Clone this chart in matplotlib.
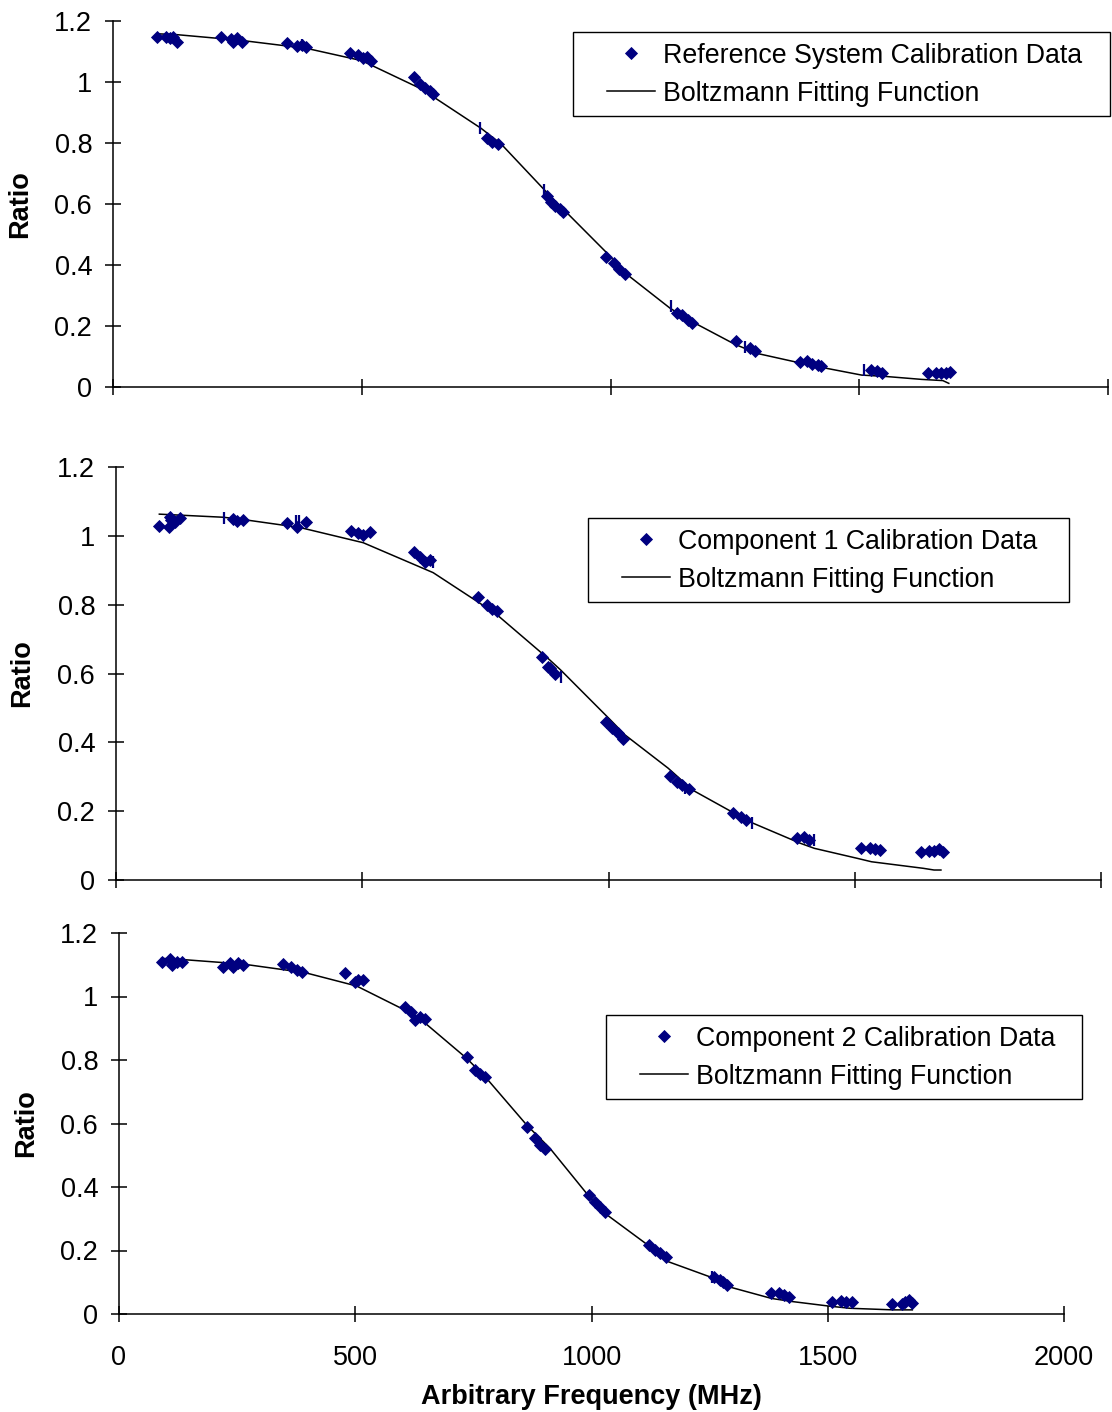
import numpy as np
import matplotlib.pyplot as plt
from matplotlib.patches import Rectangle

plt.rcParams['font.family'] = ['Liberation Sans', 'DejaVu Sans']

# Reference system calibration data (MHz, ratio)
ref_x = [89, 106, 115, 120, 129,
         218, 238, 242, 249, 259,
         350, 369, 379, 388,
         476, 493, 503, 510, 518,
         605, 617, 627, 637, 644,
         751, 761, 774,
         872, 880, 888, 898, 905,
         990, 1008, 1018, 1029,
         1133, 1144, 1155, 1164,
         1252, 1280, 1291,
         1381, 1395, 1406, 1417, 1424,
         1524, 1535, 1546,
         1639, 1654, 1665, 1675, 1682]
ref_y = [1.149, 1.147, 1.143, 1.149, 1.130,
         1.146, 1.140, 1.130, 1.143, 1.132,
         1.127, 1.119, 1.122, 1.116,
         1.094, 1.087, 1.078, 1.083, 1.070,
         1.015, 0.995, 0.979, 0.972, 0.961,
         0.818, 0.804, 0.797,
         0.625, 0.605, 0.595, 0.585, 0.575,
         0.427, 0.405, 0.386, 0.370,
         0.242, 0.236, 0.220, 0.211,
         0.152, 0.127, 0.119,
         0.083, 0.086, 0.077, 0.072, 0.070,
         0.055, 0.053, 0.047,
         0.047, 0.047, 0.047, 0.047, 0.048]
ref_tick_x = [379, 738, 866, 1122, 1270, 1510]
ref_tick_y = [1.120, 0.850, 0.645, 0.266, 0.132, 0.056]
ref_fit_x = [90, 130, 260, 390, 500, 620, 740, 780, 880, 910, 990, 1030,
             1120, 1170, 1250, 1295, 1400, 1505, 1550, 1625, 1668, 1680]
ref_fit_y = [1.158, 1.155, 1.136, 1.110, 1.070, 0.977, 0.848, 0.797, 0.624,
             0.575, 0.444, 0.373, 0.258, 0.209, 0.140, 0.110, 0.072, 0.039,
             0.035, 0.025, 0.021, 0.012]

# Component 1 calibration data
c1_x = [88, 108, 110, 111, 120, 129,
        237, 245, 257,
        347, 367, 386,
        477, 492, 502, 516,
        605, 617, 627, 638,
        735, 754, 763, 773,
        864, 878, 881, 892,
        994, 1008, 1019, 1030,
        1124, 1139, 1149, 1164,
        1253, 1269, 1280,
        1382, 1397, 1407,
        1512, 1530, 1541, 1552,
        1635, 1650, 1661, 1672, 1679]
c1_y = [1.028, 1.026, 1.055, 1.046, 1.041, 1.051,
        1.049, 1.044, 1.046,
        1.038, 1.027, 1.041,
        1.014, 1.007, 1.002, 1.010,
        0.954, 0.939, 0.925, 0.930,
        0.823, 0.799, 0.786, 0.782,
        0.649, 0.620, 0.615, 0.600,
        0.460, 0.441, 0.426, 0.409,
        0.302, 0.286, 0.276, 0.264,
        0.194, 0.184, 0.174,
        0.121, 0.126, 0.116,
        0.092, 0.094, 0.089, 0.087,
        0.082, 0.085, 0.085, 0.089, 0.082]
c1_tick_x = [219, 366, 372, 644, 903, 1155, 1291, 1418]
c1_tick_y = [1.051, 1.044, 1.044, 0.924, 0.591, 0.267, 0.165, 0.116]
c1_fit_x = [88, 218, 265, 374, 502, 644, 770, 881, 903, 1004, 1034, 1121,
            1171, 1287, 1389, 1418, 1505, 1534, 1639, 1661, 1675]
c1_fit_y = [1.063, 1.054, 1.046, 1.024, 0.980, 0.893, 0.775, 0.639, 0.610,
            0.465, 0.421, 0.325, 0.261, 0.169, 0.107, 0.092, 0.063, 0.053,
            0.034, 0.029, 0.029]

# Component 2 calibration data
c2_x = [90, 108, 112, 122, 133,
        221, 235, 242, 252, 262,
        348, 365, 376, 387,
        478, 499, 506, 517,
        605, 619, 626, 637, 648,
        736, 753, 764, 775,
        863, 880, 891, 902,
        994, 1007, 1018, 1029,
        1122, 1135, 1146, 1158,
        1260, 1271, 1279, 1286,
        1379, 1396, 1407, 1419,
        1509, 1528, 1539, 1551,
        1636, 1657, 1664, 1672, 1679]
c2_y = [1.110, 1.117, 1.099, 1.110, 1.110,
        1.094, 1.105, 1.094, 1.105, 1.099,
        1.101, 1.094, 1.084, 1.078,
        1.073, 1.047, 1.052, 1.052,
        0.968, 0.952, 0.926, 0.936, 0.928,
        0.808, 0.769, 0.756, 0.747,
        0.590, 0.553, 0.532, 0.519,
        0.375, 0.354, 0.338, 0.320,
        0.217, 0.202, 0.191, 0.179,
        0.118, 0.107, 0.102, 0.091,
        0.065, 0.067, 0.060, 0.055,
        0.039, 0.041, 0.039, 0.037,
        0.031, 0.031, 0.039, 0.044, 0.034]
c2_tick_x = [1256]
c2_tick_y = [0.118]
c2_fit_x = [90, 129, 263, 394, 503, 616, 648, 736, 778, 863, 912, 995, 1033,
            1124, 1162, 1260, 1290, 1381, 1426, 1502, 1547, 1638, 1679]
c2_fit_y = [1.120, 1.117, 1.102, 1.075, 1.033, 0.949, 0.916, 0.805, 0.742,
            0.595, 0.522, 0.370, 0.312, 0.212, 0.165, 0.112, 0.086, 0.049,
            0.039, 0.025, 0.018, 0.013, 0.013]

panels = [
    ('Reference System Calibration Data', ref_x, ref_y, ref_tick_x, ref_tick_y, ref_fit_x, ref_fit_y),
    ('Component 1 Calibration Data', c1_x, c1_y, c1_tick_x, c1_tick_y, c1_fit_x, c1_fit_y),
    ('Component 2 Calibration Data', c2_x, c2_y, c2_tick_x, c2_tick_y, c2_fit_x, c2_fit_y),
]

x_ticks = [0, 500, 1000, 1500, 2000]
y_ticks = [0, 0.2, 0.4, 0.6, 0.8, 1.0, 1.2]
y_ticklabels = ['0', '0.2', '0.4', '0.6', '0.8', '1', '1.2']

W, H = 1112, 1412
# axes boxes in pixels: left, top, right, bottom
boxes = [(113, 21, 1108, 387), (116, 467, 1101, 880), (119, 933, 1064, 1314)]
# legend frames in pixels: left, top, right, bottom
leg_boxes = [(573, 32, 1110, 116), (588, 518, 1069, 602), (606, 1015, 1082, 1099)]
ylabel_x = [20, 22, 26]

navy = '#000080'
fs = 19.5
leg_fs = 19.3

fig = plt.figure(figsize=(W / 100, H / 100), dpi=100)

for i, (name, dx, dy, tx, ty, fx, fy) in enumerate(panels):
    l, t, r, b = boxes[i]
    ax = fig.add_axes([l / W, 1 - b / H, (r - l) / W, (b - t) / H])
    ax.plot(fx, fy, color='black', lw=1.1, label='Boltzmann Fitting Function', zorder=2)
    ax.plot(dx, dy, ls='none', marker='D', ms=6.3, mfc=navy, mec=navy, mew=0.6,
            label=name, zorder=3)
    ax.plot(tx, ty, ls='none', marker='|', ms=8, mec=navy, mew=1.6, zorder=3)

    ax.set_xlim(0, 2000)
    ax.set_ylim(0, 1.2)
    for side in ['top', 'right']:
        ax.spines[side].set_visible(False)
    for side in ['left', 'bottom']:
        ax.spines[side].set_linewidth(1.1)
    ax.set_xticks(x_ticks)
    ax.set_yticks(y_ticks)
    ax.set_yticklabels(y_ticklabels)
    ax.tick_params(direction='inout', length=12, width=1.1, labelsize=fs)
    ax.tick_params(axis='y', pad=9)
    ax.tick_params(axis='x', pad=16)
    if i < 2:
        ax.set_xticklabels([])
    else:
        ax.set_xlabel('Arbitrary Frequency (MHz)', fontsize=fs, fontweight='bold', labelpad=10)

    fig.text(ylabel_x[i] / W, 1 - ((t + b) / 2) / H, 'Ratio', rotation=90,
             ha='center', va='center', fontsize=fs, fontweight='bold')

    # legend with a separate frame, diamond on the first row
    handles, labels = ax.get_legend_handles_labels()
    ll, lt, lr, lb = leg_boxes[i]
    ax.legend(handles[::-1], labels[::-1], loc='upper left',
              bbox_to_anchor=(ll / W + 34 / W - 0.4 * leg_fs / 72 * 100 / W, 1 - lt / H),
              bbox_transform=fig.transFigure, frameon=False, fontsize=leg_fs,
              handlelength=1.8, handletextpad=0.3, labelspacing=0.45,
              borderaxespad=0, borderpad=0.4)
    fig.patches.append(Rectangle((ll / W, 1 - lb / H), (lr - ll) / W, (lb - lt) / H,
                                 transform=fig.transFigure, fill=False,
                                 edgecolor='black', lw=1.0))

fig.savefig('out.png', dpi=100)
